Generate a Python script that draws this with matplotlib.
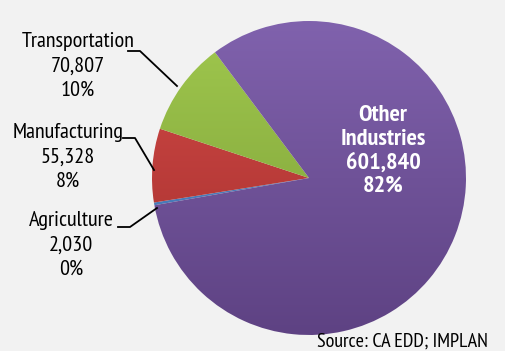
import numpy as np
import matplotlib.pyplot as plt
from matplotlib import font_manager
from matplotlib.colors import LinearSegmentedColormap

# data, in drawing order (clockwise from the left)
sectors = ["Agriculture", "Manufacturing", "Transportation", "Other Industries"]
jobs = [2030, 55328, 70807, 601840]
pct_labels = ["0%", "8%", "10%", "82%"]
source_note = "Source: CA EDD; IMPLAN"

top_colors = ["#5A8FD0", "#D24A47", "#A0C84E", "#8062AD"]
bottom_colors = ["#3C6CA8", "#A32E2C", "#7A9C36", "#5E4283"]

# narrow sans face like Arial Narrow that also has a bold weight
faces = font_manager.fontManager.ttflist
def has_bold(name):
    return any(f.name == name and f.weight in (600, 700, 800, "bold") for f in faces)

wanted = ["Liberation Sans Narrow", "Arial Narrow", "PT Sans Narrow",
          "Roboto Condensed", "Archivo Narrow", "Pragati Narrow",
          "Liberation Sans"]
narrow = next(n for n in wanted if has_bold(n))
plt.rcParams["font.family"] = [narrow, "DejaVu Sans"]

W, H = 505, 351
fig = plt.figure(figsize=(W / 100, H / 100), dpi=100, facecolor="#F2F2F2")
ax = fig.add_axes([0, 0, 1, 1])

cx, cy, r = 309, H - 178, 157

wedges, _ = ax.pie(jobs, center=(cx, cy), radius=r, startangle=190,
                   counterclock=False, frame=True,
                   wedgeprops=dict(linewidth=0))
ax.set_xlim(0, W)
ax.set_ylim(0, H)
ax.set_aspect("equal")
ax.axis("off")

# vertical gradient on each slice
grad = np.linspace(0, 1, 256).reshape(-1, 1)
for w, c0, c1 in zip(wedges, top_colors, bottom_colors):
    w.set_facecolor("none")
    cmap = LinearSegmentedColormap.from_list("g", [c1, c0])
    im = ax.imshow(grad, cmap=cmap, origin="lower", aspect="auto",
                   extent=(cx - r, cx + r, cy - r, cy + r), zorder=1)
    im.set_clip_path(w)

fmt = lambda v: f"{v:,}"

# outside labels with leader lines
label_pos = [(71, H - 245), (68, H - 157), (78, H - 66)]
leaders = [
    [(118, 227), (130, 227), (157, 208)],
    [(123, 138), (135, 138), (154, 170)],
    [(128, 51), (140, 51), (177, 86)],
]
for i in range(3):
    x, y = label_pos[i]
    ax.text(x, y, f"{sectors[i]}\n{fmt(jobs[i])}\n{pct_labels[i]}",
            ha="center", va="center", fontsize=16, linespacing=1.38,
            color="black", zorder=3)
    pts = np.array(leaders[i], dtype=float)
    ax.plot(pts[:, 0], H - pts[:, 1], color="black", lw=1.3, zorder=3)

ax.text(383, H - 151, f"Other\nIndustries\n{fmt(jobs[3])}\n{pct_labels[3]}",
        ha="center", va="center", fontsize=17.5, fontweight="bold",
        linespacing=1.17, color="white", zorder=3)

ax.text(W - 17, H - 342, source_note, ha="right", va="center",
        fontsize=14.5, color="black")

fig.savefig("out.png", dpi=100, facecolor=fig.get_facecolor())
